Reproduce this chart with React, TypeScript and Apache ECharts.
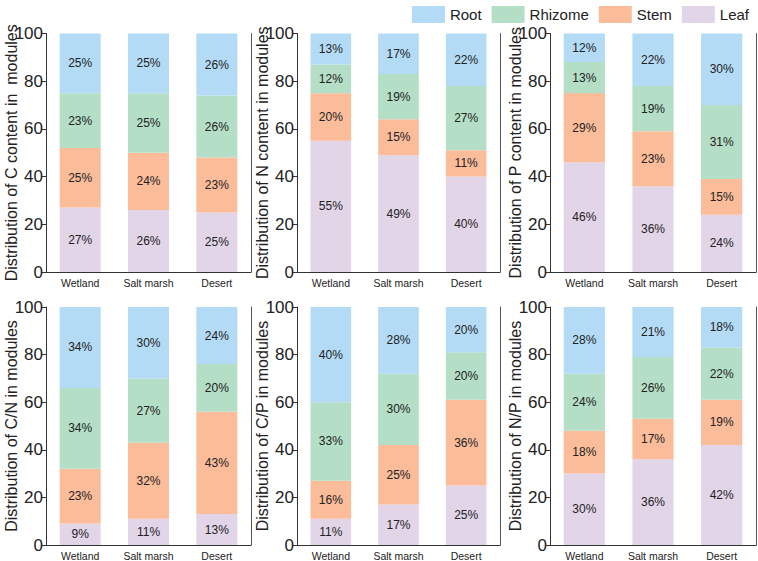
import React, { useEffect, useRef } from 'react';
import * as echarts from 'echarts';

const categories = ['Wetland', 'Salt marsh', 'Desert'];
const legendOrder = ['Root', 'Rhizome', 'Stem', 'Leaf'];

const axisTitles = [
  'Distribution of C content in  modules',
  'Distribution of N content in modules',
  'Distribution of P content in modules',
  'Distribution of C/N in modules',
  'Distribution of C/P in modules',
  'Distribution of N/P in modules'
];

// percent per panel, order: Wetland, Salt marsh, Desert
const leafValues = [[27, 26, 25], [55, 49, 40], [46, 36, 24], [9, 11, 13], [11, 17, 25], [30, 36, 42]];
const stemValues = [[25, 24, 23], [20, 15, 11], [29, 23, 15], [23, 32, 43], [16, 25, 36], [18, 17, 19]];
const rhizomeValues = [[23, 25, 26], [12, 19, 27], [13, 19, 31], [34, 27, 20], [33, 30, 20], [24, 26, 22]];
const rootValues = [[25, 25, 26], [13, 17, 22], [12, 22, 30], [34, 30, 24], [40, 28, 20], [28, 21, 18]];

const colors: Record<string, string> = {
  Root: '#B4DBF5',
  Rhizome: '#B4DEC6',
  Stem: '#FBBC9A',
  Leaf: '#E3D5E8'
};

const font = 'Arial, "Liberation Sans", sans-serif';

const App: React.FC = () => {
  const chartRef = useRef<HTMLDivElement>(null);

  useEffect(() => {
    if (!chartRef.current) return;
    const chart = echarts.init(chartRef.current, undefined, { renderer: 'svg' });

    const lefts = [46, 297, 550];
    const widths = [205, 203, 206];
    const tops = [33.5, 307];
    const heights = [238.5, 239];

    const grids: any[] = [];
    const xAxes: any[] = [];
    const yAxes: any[] = [];
    const series: any[] = [];

    const stacked: [string, number[][]][] = [
      ['Leaf', leafValues],
      ['Stem', stemValues],
      ['Rhizome', rhizomeValues],
      ['Root', rootValues]
    ];

    axisTitles.forEach((title, i) => {
      const col = i % 3;
      const row = Math.floor(i / 3);
      grids.push({ left: lefts[col], width: widths[col], top: tops[row], height: heights[row] });
      xAxes.push({
        type: 'category',
        gridIndex: i,
        data: categories,
        axisLine: { lineStyle: { color: '#333', width: 1 } },
        axisTick: { alignWithLabel: true, length: 4, lineStyle: { color: '#333' } },
        axisLabel: { fontSize: 10.5, color: '#222', fontFamily: font, margin: 5 }
      });
      yAxes.push({
        type: 'value',
        gridIndex: i,
        min: 0,
        max: 100,
        interval: 20,
        name: title,
        nameLocation: 'middle',
        nameGap: 27,
        nameMoveOverlap: false,
        nameTextStyle: { fontSize: 16, color: '#222', fontFamily: font },
        splitLine: { show: false },
        axisLine: { show: true, lineStyle: { color: '#333', width: 1 } },
        axisTick: { show: true, length: 4, lineStyle: { color: '#333' } },
        axisLabel: { fontSize: 17, color: '#222', fontFamily: font, margin: 3 }
      });
      yAxes.push({
        type: 'value',
        gridIndex: i,
        position: 'right',
        min: 0,
        max: 100,
        interval: 20,
        splitLine: { show: false },
        axisLine: { show: true, lineStyle: { color: '#555', width: 1 } },
        axisTick: { show: false },
        axisLabel: { show: false }
      });
      stacked.forEach(([name, values]) => {
        series.push({
          type: 'bar',
          name,
          xAxisIndex: i,
          yAxisIndex: i * 2,
          stack: 'panel' + i,
          barWidth: '60%',
          data: values[i],
          itemStyle: { color: colors[name] },
          label: {
            show: true,
            position: 'inside',
            formatter: '{c}%',
            fontSize: 12,
            color: '#222',
            fontFamily: font
          }
        });
      });
    });

    const option: echarts.EChartsOption = {
      animation: false,
      backgroundColor: '#fff',
      legend: {
        data: legendOrder,
        top: 1,
        right: 4,
        itemWidth: 33,
        itemHeight: 17,
        itemGap: 10,
        icon: 'rect',
        textStyle: { fontSize: 15, color: '#222', fontFamily: font }
      },
      grid: grids,
      xAxis: xAxes,
      yAxis: yAxes,
      series
    };

    chart.setOption(option);

    return () => {
      chart.dispose();
    };
  }, []);

  return (
    <div
      ref={chartRef}
      style={{ position: 'fixed', left: 0, top: 0, width: '758px', height: '561px' }}
    />
  );
};

export default App;
